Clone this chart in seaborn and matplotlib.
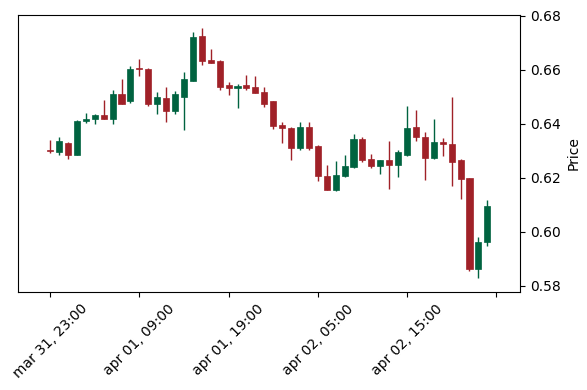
import pandas as pd
import numpy as np
import matplotlib
matplotlib.use("Agg")
import matplotlib.pyplot as plt
import seaborn as sns

# hourly candles
opens = [0.6302, 0.6294, 0.6330, 0.6285, 0.6409, 0.6416, 0.6433, 0.6419, 0.6511, 0.6483,
         0.6607, 0.6604, 0.6475, 0.6496, 0.6446, 0.6501, 0.6560, 0.6727, 0.6637, 0.6634,
         0.6544, 0.6531, 0.6544, 0.6537, 0.6519, 0.6483, 0.6397, 0.6385, 0.6309, 0.6388,
         0.6319, 0.6207, 0.6153, 0.6207, 0.6238, 0.6344, 0.6270, 0.6245, 0.6267, 0.6249,
         0.6285, 0.6389, 0.6352, 0.6275, 0.6333, 0.6326, 0.6264, 0.6200, 0.5860, 0.5960]
highs = [0.6341, 0.6351, 0.6333, 0.6413, 0.6440, 0.6436, 0.6489, 0.6526, 0.6566, 0.6614,
         0.6640, 0.6606, 0.6519, 0.6536, 0.6521, 0.6591, 0.6740, 0.6754, 0.6677, 0.6636,
         0.6554, 0.6547, 0.6580, 0.6577, 0.6538, 0.6485, 0.6405, 0.6388, 0.6406, 0.6405,
         0.6321, 0.6249, 0.6262, 0.6286, 0.6362, 0.6352, 0.6288, 0.6267, 0.6338, 0.6302,
         0.6467, 0.6451, 0.6369, 0.6417, 0.6347, 0.6501, 0.6269, 0.6200, 0.5981, 0.6117]
lows = [0.6293, 0.6283, 0.6270, 0.6283, 0.6403, 0.6401, 0.6417, 0.6399, 0.6475, 0.6478,
        0.6578, 0.6466, 0.6437, 0.6407, 0.6437, 0.6378, 0.6558, 0.6619, 0.6625, 0.6526,
        0.6507, 0.6458, 0.6525, 0.6515, 0.6462, 0.6381, 0.6328, 0.6267, 0.6303, 0.6304,
        0.6189, 0.6153, 0.6152, 0.6203, 0.6236, 0.6259, 0.6236, 0.6214, 0.6159, 0.6203,
        0.6280, 0.6338, 0.6193, 0.6269, 0.6281, 0.6170, 0.6122, 0.5853, 0.5829, 0.5948]
closes = [0.6298, 0.6337, 0.6286, 0.6411, 0.6419, 0.6433, 0.6419, 0.6511, 0.6475, 0.6604,
          0.6604, 0.6472, 0.6500, 0.6446, 0.6509, 0.6567, 0.6723, 0.6634, 0.6627, 0.6538,
          0.6531, 0.6541, 0.6534, 0.6516, 0.6475, 0.6393, 0.6384, 0.6309, 0.6388, 0.6311,
          0.6205, 0.6153, 0.6211, 0.6244, 0.6344, 0.6267, 0.6243, 0.6267, 0.6249, 0.6297,
          0.6385, 0.6351, 0.6274, 0.6332, 0.6325, 0.6260, 0.6197, 0.5863, 0.5963, 0.6096]

dates = pd.date_range("2023-03-31 23:00", periods=len(opens), freq="h")

df = pd.DataFrame({"Open": opens, "High": highs, "Low": lows, "Close": closes}, index=dates)
df["idx"] = np.arange(len(df))
df["up"] = df["Close"] >= df["Open"]

up_color = "#006340"
down_color = "#a02128"
colors = np.where(df["up"], up_color, down_color)

sns.set_style("ticks", {"axes.edgecolor": "black", "xtick.color": "black",
                        "ytick.color": "black", "axes.labelcolor": "black",
                        "text.color": "black"})
plt.rcParams["font.family"] = ["DejaVu Sans"]

fig = plt.figure(figsize=(5.87, 3.9), dpi=100)
ax = fig.add_axes([0.031, 0.251, 0.855, 0.711])

body_bottom = np.minimum(df["Open"], df["Close"])
body_height = (df["Open"] - df["Close"]).abs()
body_height = np.maximum(body_height, 0.0003)

ax.vlines(df["idx"], df["Low"], df["High"], colors=colors, linewidth=1.0, zorder=1)
ax.bar(df["idx"], body_height, bottom=body_bottom, width=0.68, color=colors,
       edgecolor=colors, linewidth=0.5, zorder=2)

ax.set_xlim(-3.58, 52.67)
ax.set_ylim(0.5776, 0.6804)

tick_pos = np.arange(0, 51, 10)
tick_labels = [dates[i].strftime("%b %d, %H:%M").lower() if i < len(dates) else ""
               for i in tick_pos]
ax.set_xticks(tick_pos)
ax.set_xticklabels(tick_labels, rotation=45, ha="center")

ax.yaxis.tick_right()
ax.yaxis.set_label_position("right")
ax.set_yticks([0.58, 0.60, 0.62, 0.64, 0.66, 0.68])
ax.set_ylabel("Price")
ax.tick_params(direction="out", length=3.5)

fig.savefig("out.png", dpi=100)
